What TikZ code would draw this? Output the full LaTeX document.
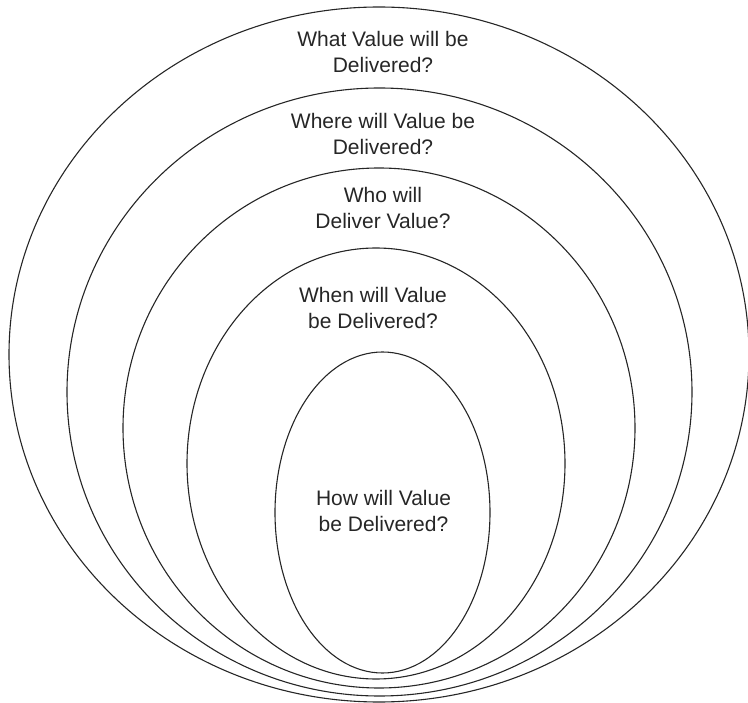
\documentclass[tikz,border=0pt]{standalone}
\usepackage{fontspec}
\setmainfont{Liberation Sans}
\begin{document}
\begin{tikzpicture}[x=1pt,y=-1pt,
  ring/.style={draw=black!85, line width=1.1pt},
  lbl/.style={align=center, text=black!85, font=\fontsize{21}{25.5}\selectfont, inner sep=0pt}]
\useasboundingbox (0,0) rectangle (748,703);
\draw[ring] (379,354.5) ellipse [x radius=370, y radius=347.5];
\draw[ring] (379.5,392) ellipse [x radius=312.5, y radius=304];
\draw[ring] (379,428) ellipse [x radius=256, y radius=260];
\draw[ring] (376,463.5) ellipse [x radius=189, y radius=215.5];
\draw[ring] (382.5,512.5) ellipse [x radius=107.5, y radius=160.5];
\node[lbl] (what) at (383,52) {What Value will be\\Delivered?};
\node[lbl] (where) at (383,134) {Where will Value be\\Delivered?};
\node[lbl] (who) at (383,208) {Who will\\Deliver Value?};
\node[lbl] (when) at (373,308) {When will Value\\be Delivered?};
\node[lbl] (how) at (383.5,511) {How will Value\\be Delivered?};
\end{tikzpicture}
\end{document}
